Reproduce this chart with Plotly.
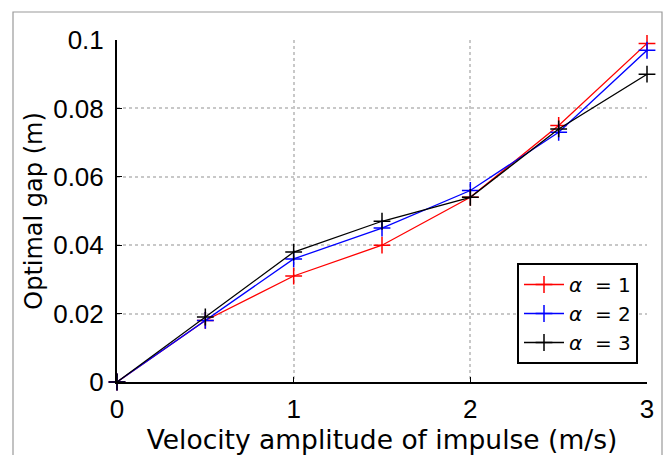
import plotly.graph_objects as go

velocity = [0, 0.5, 1, 1.5, 2, 2.5, 3]
gap_alpha1 = [0, 0.018, 0.031, 0.040, 0.054, 0.075, 0.099]
gap_alpha2 = [0, 0.018, 0.036, 0.045, 0.056, 0.073, 0.097]
gap_alpha3 = [0, 0.019, 0.038, 0.047, 0.054, 0.074, 0.090]
series_names = ["<i>α</i>  = 1", "<i>α</i>  = 2", "<i>α</i>  = 3"]
series_colors = ["#ff0000", "#0000ff", "#000000"]
x_ticks = [0, 1, 2, 3]
y_ticks = [0, 0.02, 0.04, 0.06, 0.08, 0.1]
y_ticktext = ["0", "0.02", "0.04", "0.06", "0.08", "0.1"]

FONT = "DejaVu Sans, Liberation Sans, Arial, sans-serif"
TICKFONT = "Liberation Sans, Arial, sans-serif"

fig = go.Figure()
for ys, name, col in zip([gap_alpha1, gap_alpha2, gap_alpha3], series_names, series_colors):
    fig.add_trace(go.Scatter(
        x=velocity, y=ys, mode="lines+markers", name=name,
        line=dict(color=col, width=1.3),
        marker=dict(symbol="cross-thin", size=12, line=dict(color=col, width=1.5)),
        cliponaxis=False,
    ))

L, R, T, B = 117, 18, 40, 73
W, H = 665, 455
pw, ph = W - L - R, H - T - B

def px_to_paper_x(px):
    return (px - L) / pw

def px_to_paper_y(py):
    return (H - B - py) / ph

fig.add_shape(type="rect", xref="paper", yref="paper",
              x0=px_to_paper_x(13), x1=px_to_paper_x(662),
              y0=px_to_paper_y(470), y1=px_to_paper_y(12),
              line=dict(color="#9a9a9a", width=1.2), fillcolor="rgba(0,0,0,0)", layer="below")

fig.update_layout(
    width=W, height=H,
    margin=dict(l=L, r=R, t=T, b=B),
    paper_bgcolor="white", plot_bgcolor="white",
    font=dict(family=FONT, color="black", size=22),
    showlegend=True,
    legend=dict(
        x=px_to_paper_x(638), y=px_to_paper_y(263), xanchor="right", yanchor="top",
        bordercolor="black", borderwidth=2, bgcolor="white",
        font=dict(size=20, family=FONT), tracegroupgap=0,
        itemwidth=40,
    ),
    xaxis=dict(
        range=[0, 3], tickvals=x_ticks, ticktext=[str(v) for v in x_ticks],
        showline=True, linecolor="black", linewidth=2,
        ticks="inside", ticklen=5, tickwidth=1, tickcolor="black",
        showgrid=True, gridcolor="#c8c8c8", gridwidth=2, griddash="dot",
        zeroline=False, ticklabelstandoff=3, automargin=False,
        title=dict(text="Velocity amplitude of impulse (m/s)", font=dict(size=26.5), standoff=2),
        tickfont=dict(size=26, family=TICKFONT),
    ),
    yaxis=dict(
        range=[0, 0.1], tickvals=y_ticks, ticktext=y_ticktext,
        showline=True, linecolor="black", linewidth=2,
        ticks="inside", ticklen=5, tickwidth=1, tickcolor="black",
        showgrid=True, gridcolor="#c8c8c8", gridwidth=2, griddash="dot",
        zeroline=False, ticklabelstandoff=6, automargin=False,
        title=dict(text="Optimal gap (m)", font=dict(size=24), standoff=4),
        tickfont=dict(size=26, family=TICKFONT),
    ),
)

fig.write_html("out.html")
